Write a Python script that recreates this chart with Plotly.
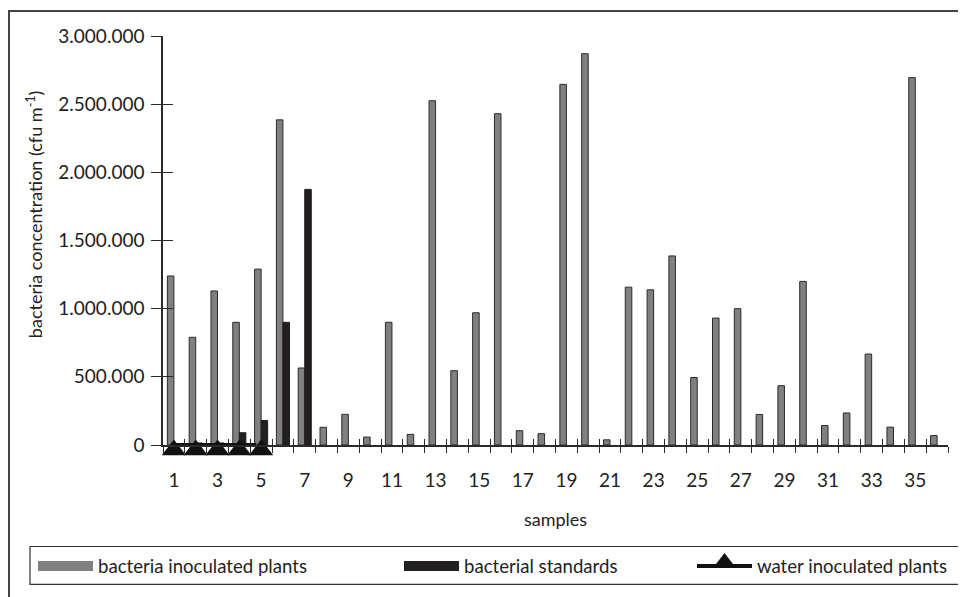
import plotly.graph_objects as go

samples = list(range(1, 37))
bacteria_inoculated = [1240000, 790000, 1130000, 900000, 1290000, 2385000, 565000, 130000, 225000, 58000,
                       900000, 78000, 2525000, 545000, 970000, 2430000, 105000, 83000, 2645000, 2870000,
                       38000, 1158000, 1138000, 1387000, 495000, 931000, 1000000, 224000, 435000, 1200000,
                       143000, 235000, 667000, 131000, 2695000, 69000]
bacterial_standards = [10000, 15000, 15000, 90000, 180000, 900000, 1875000] + [None] * 29
water_samples = [1, 2, 3, 4, 5]
water_inoculated = [0, 0, 0, 0, 0]
y_ticks = [0, 500000, 1000000, 1500000, 2000000, 2500000, 3000000]
x_label_vals = list(range(1, 36, 2))
boundaries = [i + 0.5 for i in range(0, 37)]

FONT = "Lato, 'Liberation Sans', sans-serif"
AX = "#2a2a2a"
GRAY = "#808083"
BLACK = "#231f20"

OFF = 8  # page body margin
W, H = 966 - OFF, 597 - OFF
L, R, T, B = 155, 18, 28, 150
pw, ph = W - L - R, H - T - B


def px_x(p):
    return (p - OFF - L) / pw


def px_y(p):
    return (H - B - (p - OFF)) / ph


fig = go.Figure()
fig.add_trace(go.Bar(x=samples, y=bacteria_inoculated, name="bacteria inoculated plants",
                     marker=dict(color=GRAY, line=dict(color="#2b2b2b", width=1)),
                     showlegend=False))
fig.add_trace(go.Bar(x=samples, y=bacterial_standards, name="bacterial standards",
                     marker=dict(color=BLACK, line=dict(color=BLACK, width=1)),
                     showlegend=False))
fig.add_trace(go.Scatter(x=water_samples, y=water_inoculated, name="water inoculated plants",
                         mode="lines+markers", cliponaxis=False,
                         line=dict(color="#111111", width=4),
                         marker=dict(symbol="triangle-up", size=21, color="#111111",
                                     angle=0, standoff=5),
                         legend="legend3"))
# legend keys (wide swatches) for the two bar series
fig.add_trace(go.Scatter(x=[None], y=[None], name="bacteria inoculated plants", mode="lines",
                         line=dict(color=GRAY, width=15), legend="legend", hoverinfo="skip"))
fig.add_trace(go.Scatter(x=[None], y=[None], name="bacterial standards", mode="lines",
                         line=dict(color=BLACK, width=15), legend="legend2", hoverinfo="skip"))
# empty helper trace for overlay axes (crossing ticks)
fig.add_trace(go.Scatter(x=[], y=[], xaxis="x2", yaxis="y2", showlegend=False, hoverinfo="skip"))

leg = dict(xanchor="left", yanchor="middle", font=dict(size=18.6), bgcolor="rgba(0,0,0,0)",
           itemwidth=55, itemsizing="trace")

fig.update_layout(
    width=W, height=H,
    margin=dict(l=L, r=R, t=T, b=B),
    paper_bgcolor="white", plot_bgcolor="white",
    showlegend=True,
    separators=",.",
    barmode="group", bargap=0.4, bargroupgap=0,
    font=dict(family=FONT, size=18, color="#222222"),
    xaxis=dict(range=[0.5, 36.5], tickmode="array", tickvals=x_label_vals,
               ticktext=[str(v) for v in x_label_vals], ticks="", ticklabelstandoff=17,
               showline=True, linecolor=AX, linewidth=1.5, showgrid=False, zeroline=False,
               tickfont=dict(size=19),
               minor=dict(tickmode="array", tickvals=boundaries, ticks="outside", ticklen=6,
                          tickcolor=AX, tickwidth=1.2, showgrid=False),
               title=dict(text="samples", font=dict(size=18), standoff=24)),
    xaxis2=dict(range=[0.5, 36.5], overlaying="x", anchor="y", side="bottom",
                tickmode="array", tickvals=boundaries, ticks="inside", ticklen=6,
                tickcolor=AX, tickwidth=1.2, showticklabels=False, showline=False,
                showgrid=False, zeroline=False),
    yaxis=dict(range=[0, 3000000], tickmode="array", tickvals=y_ticks, tickformat=",d",
               ticks="outside", ticklen=10, tickcolor=AX, tickwidth=1.2,
               showline=True, linecolor=AX, linewidth=1.5, showgrid=False, zeroline=False,
               tickfont=dict(size=19), ticklabelstandoff=3),
    yaxis2=dict(range=[0, 3000000], overlaying="y", anchor="x", side="left",
                tickmode="array", tickvals=y_ticks, ticks="inside", ticklen=10,
                tickcolor=AX, tickwidth=1.2, showticklabels=False, showline=False,
                showgrid=False, zeroline=False),
    legend=dict(x=px_x(33), y=px_y(569), **leg),
    legend2=dict(x=px_x(399), y=px_y(569), **leg),
    legend3=dict(x=px_x(692), y=px_y(569), **leg),
    annotations=[dict(text="bacteria concentration (cfu m<sup>-1</sup>)", textangle=-90,
                      xref="paper", yref="paper", x=px_x(35), y=px_y(215),
                      xanchor="center", yanchor="middle", showarrow=False,
                      font=dict(size=18))],
    shapes=[
        dict(type="rect", xref="paper", yref="paper", x0=px_x(9), x1=px_x(980),
             y0=px_y(615), y1=px_y(11), line=dict(color="#444444", width=2), layer="below"),
        dict(type="rect", xref="paper", yref="paper", x0=px_x(30), x1=px_x(964),
             y0=px_y(587), y1=px_y(549), line=dict(color="#333333", width=1.2), layer="below"),
    ],
)

fig.write_html("out.html")
